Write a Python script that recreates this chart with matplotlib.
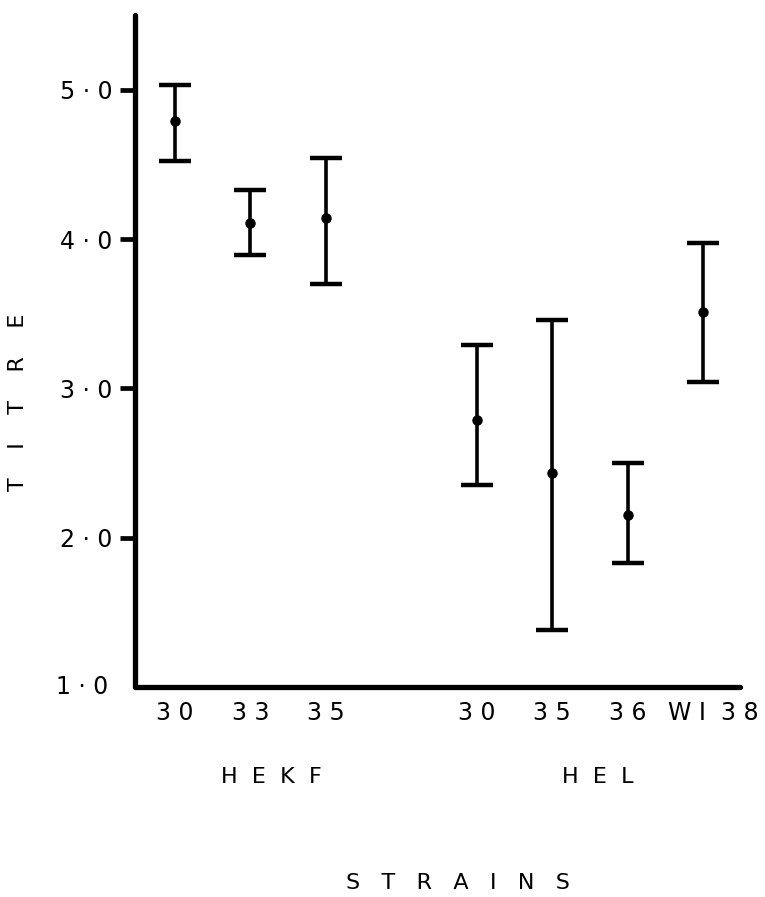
import matplotlib
matplotlib.use("Agg")
import matplotlib.pyplot as plt
import matplotlib.transforms as mtransforms
import numpy as np

# Data
strains = ["3 0", "3 3", "3 5", "3 0", "3 5", "3 6", "W I  3 8"]
groups = ["HEKF", "HEL"]
positions = [0, 1, 2, 4, 5, 6, 7]
means = [4.79, 4.11, 4.14, 2.79, 2.43, 2.15, 3.51]
upper = [5.03, 4.33, 4.54, 3.29, 3.46, 2.50, 3.97]
lower = [4.52, 3.89, 3.70, 2.35, 1.38, 1.83, 3.04]
yticks = [2.0, 3.0, 4.0, 5.0]
ytick_labels = ["2 · 0", "3 · 0", "4 · 0", "5 · 0"]

plt.rcParams['font.family'] = ['DejaVu Sans']

fig = plt.figure(figsize=(7.65, 8.97), dpi=100)
ax = fig.add_axes([135/765, 1 - 687/897, (740-135)/765, (687-15)/897])

m = np.array(means)
yerr = np.vstack([m - np.array(lower), np.array(upper) - m])
ax.errorbar(positions, means, yerr=yerr, fmt='o', color='black',
            markersize=6.5, elinewidth=2.6, capsize=11.5, capthick=3.2)

ax.set_xlim(-0.53, 7.49)
ax.set_ylim(1.0, 5.5)

for s in ['top', 'right']:
    ax.spines[s].set_visible(False)
for s in ['left', 'bottom']:
    ax.spines[s].set_linewidth(3.8)
    ax.spines[s].set_capstyle('round')

ax.set_yticks(yticks)
ax.set_yticklabels(ytick_labels, fontsize=17)
ax.tick_params(axis='y', direction='out', length=11, width=3.4, pad=5)

ax.set_xticks(positions)
ax.set_xticklabels(strains, fontsize=17)
ax.tick_params(axis='x', length=0, pad=10)
last = ax.get_xticklabels()[-1]
last.set_transform(last.get_transform() +
                   mtransforms.ScaledTranslation(10/100, 0, fig.dpi_scale_trans))

# 1.0 label at origin
ax.text(-0.53 - 0.36, 1.0, "1 · 0", fontsize=17, ha='right', va='center',
        transform=ax.transData, clip_on=False)

# group labels
fig.text(271/765, 1 - 777/897, "H  E  K  F", fontsize=16, ha='center', va='center')
fig.text(598/765, 1 - 777/897, "H  E  L", fontsize=16, ha='center', va='center')
fig.text(458/765, 1 - 883/897, "S   T   R   A   I   N   S", fontsize=16, ha='center', va='center')
fig.text(18/765, 1 - 402/897, "T    I    T    R    E", fontsize=16, ha='center', va='center',
         rotation=90)

fig.savefig("out.png", dpi=100)
